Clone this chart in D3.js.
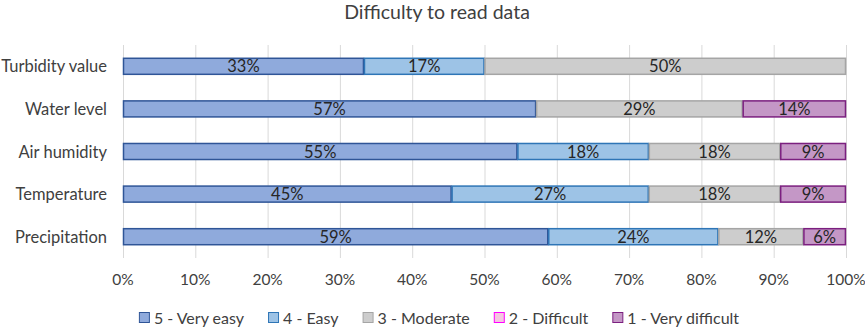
<!DOCTYPE html>
<html>
<head>
<meta charset="utf-8">
<script src="https://cdn.jsdelivr.net/npm/d3@7"></script>
<style>
  body { margin: 0; background: #fff; }
  text { font-family: Lato, "Open Sans", sans-serif; fill: #404040; }
</style>
</head>
<body>
<div id="chart"></div>
<script>
// categories, top to bottom
const categories = ["Turbidity value", "Water level", "Air humidity", "Temperature", "Precipitation"];
const seriesNames = ["5 - Very easy", "4 - Easy", "3 - Moderate", "2 - Difficult", "1 - Very difficult"];
// percent per series, same order as categories
const veryEasy     = [33.33, 57.14, 54.55, 45.45, 58.82];
const easy         = [16.67, 0,     18.18, 27.27, 23.53];
const moderate     = [50,    28.57, 18.18, 18.18, 11.76];
const difficult    = [0,     0,     0,     0,     0];
const veryDifficult= [0,     14.29, 9.09,  9.09,  5.88];
const tickLabels = ["0%", "10%", "20%", "30%", "40%", "50%", "60%", "70%", "80%", "90%", "100%"];

const fills   = ["#8faadc", "#9dc3e6", "#cdcdcd", "#f4c6e0", "#c497c6"];
const strokes = ["#2f5597", "#2e75b6", "#a5a5a5", "#ff00ff", "#7b1f7f"];

const width = 865, height = 328;
const margin = { top: 45, right: 19, bottom: 70, left: 123 };

const svg = d3.select("#chart").append("svg")
  .attr("width", width)
  .attr("height", height);

svg.append("text")
  .attr("x", 437)
  .attr("y", 19)
  .attr("text-anchor", "middle")
  .style("font-size", "19.5px")
  .text("Difficulty to read data");

const x = d3.scaleLinear().domain([0, 100]).range([margin.left, width - margin.right]);
const y = d3.scaleBand().domain(categories).range([margin.top, height - margin.bottom]).paddingInner(0.6).paddingOuter(0.3);

// gridlines
svg.append("g").selectAll("line")
  .data(d3.range(0, 101, 10))
  .enter().append("line")
  .attr("x1", d => x(d) + 0.5).attr("x2", d => x(d) + 0.5)
  .attr("y1", margin.top).attr("y2", height - margin.bottom)
  .attr("stroke", "#d9d9d9").attr("stroke-width", 1);

// tick labels
svg.append("g").selectAll("text")
  .data(tickLabels)
  .enter().append("text")
  .attr("x", (d, i) => x(i * 10))
  .attr("y", 285)
  .attr("text-anchor", "middle")
  .style("font-size", "15.5px")
  .text(d => d);

// category labels
svg.append("g").selectAll("text")
  .data(categories)
  .enter().append("text")
  .attr("x", 107)
  .attr("y", d => y(d) + y.bandwidth() / 2 + 6)
  .attr("text-anchor", "end")
  .style("font-size", "16.5px")
  .text(d => d);

const table = categories.map((c, i) => ({
  cat: c,
  s0: veryEasy[i], s1: easy[i], s2: moderate[i], s3: difficult[i], s4: veryDifficult[i]
}));
const stack = d3.stack().keys(["s0", "s1", "s2", "s3", "s4"])(table);

const layers = svg.append("g").selectAll("g")
  .data(stack)
  .enter().append("g");

layers.selectAll("rect")
  .data((d, k) => d.filter(p => p[1] - p[0] > 0).map(p => ({ p, k })))
  .enter().append("rect")
  .attr("x", d => x(d.p[0]) + 0.5)
  .attr("y", d => y(d.p.data.cat) + 0.5)
  .attr("width", d => x(d.p[1]) - x(d.p[0]) - 1)
  .attr("height", y.bandwidth() - 1)
  .attr("fill", d => fills[d.k])
  .attr("stroke", d => strokes[d.k])
  .attr("stroke-width", 1.5);

layers.selectAll("text")
  .data((d, k) => d.filter(p => p[1] - p[0] > 0).map(p => ({ p, k })))
  .enter().append("text")
  .attr("x", d => (x(d.p[0]) + x(d.p[1])) / 2)
  .attr("y", d => y(d.p.data.cat) + y.bandwidth() / 2 + 6)
  .attr("text-anchor", "middle")
  .style("font-size", "16.5px")
  .style("fill", "#262626")
  .text(d => Math.round(d.p[1] - d.p[0]) + "%");

// legend
const legend = svg.append("g");
let lx = 0;
seriesNames.forEach((name, i) => {
  const g = legend.append("g").attr("transform", `translate(${lx},0)`);
  g.append("rect")
    .attr("x", 0.5).attr("y", -11.5)
    .attr("width", 10).attr("height", 10)
    .attr("fill", fills[i]).attr("stroke", strokes[i]).attr("stroke-width", 1);
  const t = g.append("text")
    .attr("x", 15).attr("y", 0)
    .style("font-size", "16px")
    .text(name);
  lx += 15 + t.node().getComputedTextLength() + 24;
});
const legendWidth = lx - 24;
legend.attr("transform", `translate(${439 - legendWidth / 2},324)`);
</script>
</body>
</html>
